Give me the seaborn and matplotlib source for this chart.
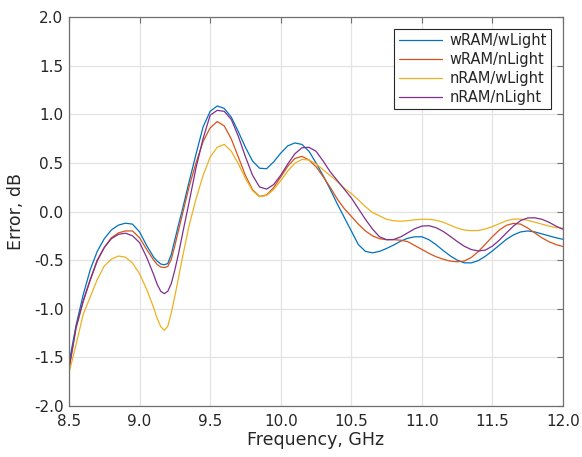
import numpy as np
import pandas as pd
import matplotlib
matplotlib.use("Agg")
import matplotlib.pyplot as plt
import seaborn as sns

# Frequency samples, GHz (denser around the 9.2 GHz dip)
freq = [
    8.50, 8.55, 8.60, 8.65, 8.70, 8.75, 8.80, 8.85, 8.90, 8.95,
    9.00, 9.05, 9.10,
    9.125, 9.15, 9.175, 9.20, 9.225, 9.25, 9.275, 9.30,
    9.35, 9.40, 9.45, 9.50, 9.55, 9.60, 9.65, 9.70, 9.75, 9.80,
    9.85, 9.90, 9.95, 10.00, 10.05, 10.10, 10.15, 10.20, 10.25, 10.30,
    10.35, 10.40, 10.45, 10.50, 10.55, 10.60, 10.65, 10.70, 10.75, 10.80,
    10.85, 10.90, 10.95, 11.00, 11.05, 11.10, 11.15, 11.20, 11.25, 11.30,
    11.35, 11.40, 11.45, 11.50, 11.55, 11.60, 11.65, 11.70, 11.75, 11.80,
    11.85, 11.90, 11.95, 12.00,
]

# Measured error, dB
w_ram_w_light = [
    -1.56, -1.17, -0.86, -0.60, -0.41, -0.28, -0.19, -0.14, -0.12, -0.13,
    -0.21, -0.35, -0.47,
    -0.51, -0.54, -0.548, -0.535, -0.44, -0.29, -0.14, 0.00,
    0.30, 0.59, 0.87, 1.03, 1.085, 1.06, 0.97, 0.82, 0.66, 0.52,
    0.445, 0.44, 0.51, 0.60, 0.675, 0.705, 0.69, 0.62, 0.50, 0.37,
    0.23, 0.08, -0.06, -0.20, -0.34, -0.41, -0.425, -0.41, -0.38, -0.345,
    -0.305, -0.275, -0.26, -0.26, -0.29, -0.34, -0.40, -0.455, -0.50, -0.528,
    -0.528, -0.505, -0.46, -0.405, -0.345, -0.285, -0.24, -0.21, -0.20, -0.21,
    -0.23, -0.25, -0.27, -0.286,
]
w_ram_n_light = [
    -1.63, -1.20, -0.93, -0.71, -0.51, -0.37, -0.27, -0.22, -0.20, -0.20,
    -0.27, -0.39, -0.50,
    -0.545, -0.57, -0.577, -0.565, -0.49, -0.35, -0.20, -0.05,
    0.25, 0.50, 0.72, 0.86, 0.925, 0.88, 0.745, 0.56, 0.37, 0.225,
    0.155, 0.17, 0.245, 0.355, 0.465, 0.545, 0.567, 0.53, 0.46, 0.36,
    0.25, 0.13, 0.03, -0.05, -0.13, -0.20, -0.25, -0.28, -0.29, -0.29,
    -0.295, -0.31, -0.35, -0.39, -0.43, -0.465, -0.49, -0.51, -0.517, -0.51,
    -0.473, -0.412, -0.336, -0.258, -0.189, -0.141, -0.122, -0.13, -0.17, -0.22,
    -0.27, -0.31, -0.34, -0.36,
]
n_ram_w_light = [
    -1.66, -1.37, -1.06, -0.88, -0.70, -0.56, -0.49, -0.458, -0.47, -0.53,
    -0.64, -0.80, -0.99,
    -1.10, -1.185, -1.222, -1.18, -1.04, -0.87, -0.69, -0.50,
    -0.15, 0.13, 0.37, 0.56, 0.66, 0.69, 0.62, 0.49, 0.34, 0.215,
    0.152, 0.165, 0.225, 0.317, 0.416, 0.496, 0.535, 0.53, 0.49, 0.43,
    0.37, 0.31, 0.24, 0.185, 0.12, 0.05, -0.01, -0.045, -0.08, -0.095,
    -0.10, -0.095, -0.085, -0.08, -0.08, -0.09, -0.11, -0.14, -0.17, -0.19,
    -0.197, -0.195, -0.18, -0.155, -0.125, -0.095, -0.078, -0.078, -0.09, -0.11,
    -0.13, -0.15, -0.165, -0.172,
]
n_ram_n_light = [
    -1.61, -1.19, -0.92, -0.70, -0.50, -0.37, -0.28, -0.235, -0.223, -0.25,
    -0.32, -0.47, -0.65,
    -0.75, -0.82, -0.845, -0.82, -0.74, -0.60, -0.44, -0.26,
    0.09, 0.45, 0.75, 0.99, 1.04, 1.03, 0.946, 0.772, 0.563, 0.374,
    0.252, 0.23, 0.277, 0.373, 0.489, 0.593, 0.655, 0.66, 0.62, 0.52,
    0.41, 0.32, 0.23, 0.14, 0.03, -0.08, -0.18, -0.26, -0.29, -0.288,
    -0.261, -0.219, -0.177, -0.15, -0.146, -0.166, -0.204, -0.254, -0.308, -0.357,
    -0.391, -0.406, -0.397, -0.356, -0.293, -0.219, -0.148, -0.093, -0.066, -0.065,
    -0.08, -0.11, -0.15, -0.183,
]

series_names = ["wRAM/wLight", "wRAM/nLight", "nRAM/wLight", "nRAM/nLight"]
series_values = [w_ram_w_light, w_ram_n_light, n_ram_w_light, n_ram_n_light]
series_colors = ["#0072BD", "#D95319", "#EDB120", "#7E2F8E"]

x_ticks = [8.5, 9.0, 9.5, 10.0, 10.5, 11.0, 11.5, 12.0]
y_ticks = [-2.0, -1.5, -1.0, -0.5, 0.0, 0.5, 1.0, 1.5, 2.0]

df = pd.concat(
    [pd.DataFrame({"freq": freq, "err": vals, "case": name})
     for name, vals in zip(series_names, series_values)],
    ignore_index=True,
)

sns.set_style("white")
plt.rcParams["font.family"] = ["DejaVu Sans"]

fig, ax = plt.subplots(figsize=(5.82, 4.57), dpi=100)
fig.subplots_adjust(left=69 / 582, right=563 / 582, top=1 - 17 / 457, bottom=1 - 406 / 457)

sns.lineplot(
    data=df, x="freq", y="err", hue="case", hue_order=series_names,
    palette=series_colors, estimator=None, sort=False, linewidth=0.9, ax=ax,
)

ax.set_xlim(8.5, 12.0)
ax.set_ylim(-2.0, 2.0)
ax.set_xticks(x_ticks)
ax.set_yticks(y_ticks)
ax.set_xticklabels([f"{t:.1f}" for t in x_ticks])
ax.set_yticklabels([f"{t:.1f}" for t in y_ticks])

ax.grid(True, color="#e3e3e3", linewidth=0.9)
ax.set_axisbelow(True)
for side in ["left", "right", "top", "bottom"]:
    ax.spines[side].set_visible(True)
    ax.spines[side].set_color("#707070")
    ax.spines[side].set_linewidth(0.9)

ax.tick_params(axis="both", which="major", direction="in", length=4, width=0.8,
               color="#707070", labelsize=11, labelcolor="#262626",
               top=True, right=True)
ax.tick_params(axis="x", pad=5.5)
ax.tick_params(axis="y", pad=4)

ax.set_xlabel("Frequency, GHz", fontsize=12.5, color="#262626", labelpad=2)
ax.set_ylabel("Error, dB", fontsize=12.5, color="#262626", labelpad=6)

handles, labels = ax.get_legend_handles_labels()
leg = ax.legend(handles, labels, loc="upper right", fontsize=10.5, frameon=True,
                fancybox=False, edgecolor="#262626", framealpha=1,
                handlelength=3.0, handletextpad=0.5, labelspacing=0.27,
                borderpad=0.3, borderaxespad=0.8)
leg.get_frame().set_linewidth(0.8)
for line in leg.get_lines():
    line.set_linewidth(0.9)

fig.savefig("out.png", dpi=100)
